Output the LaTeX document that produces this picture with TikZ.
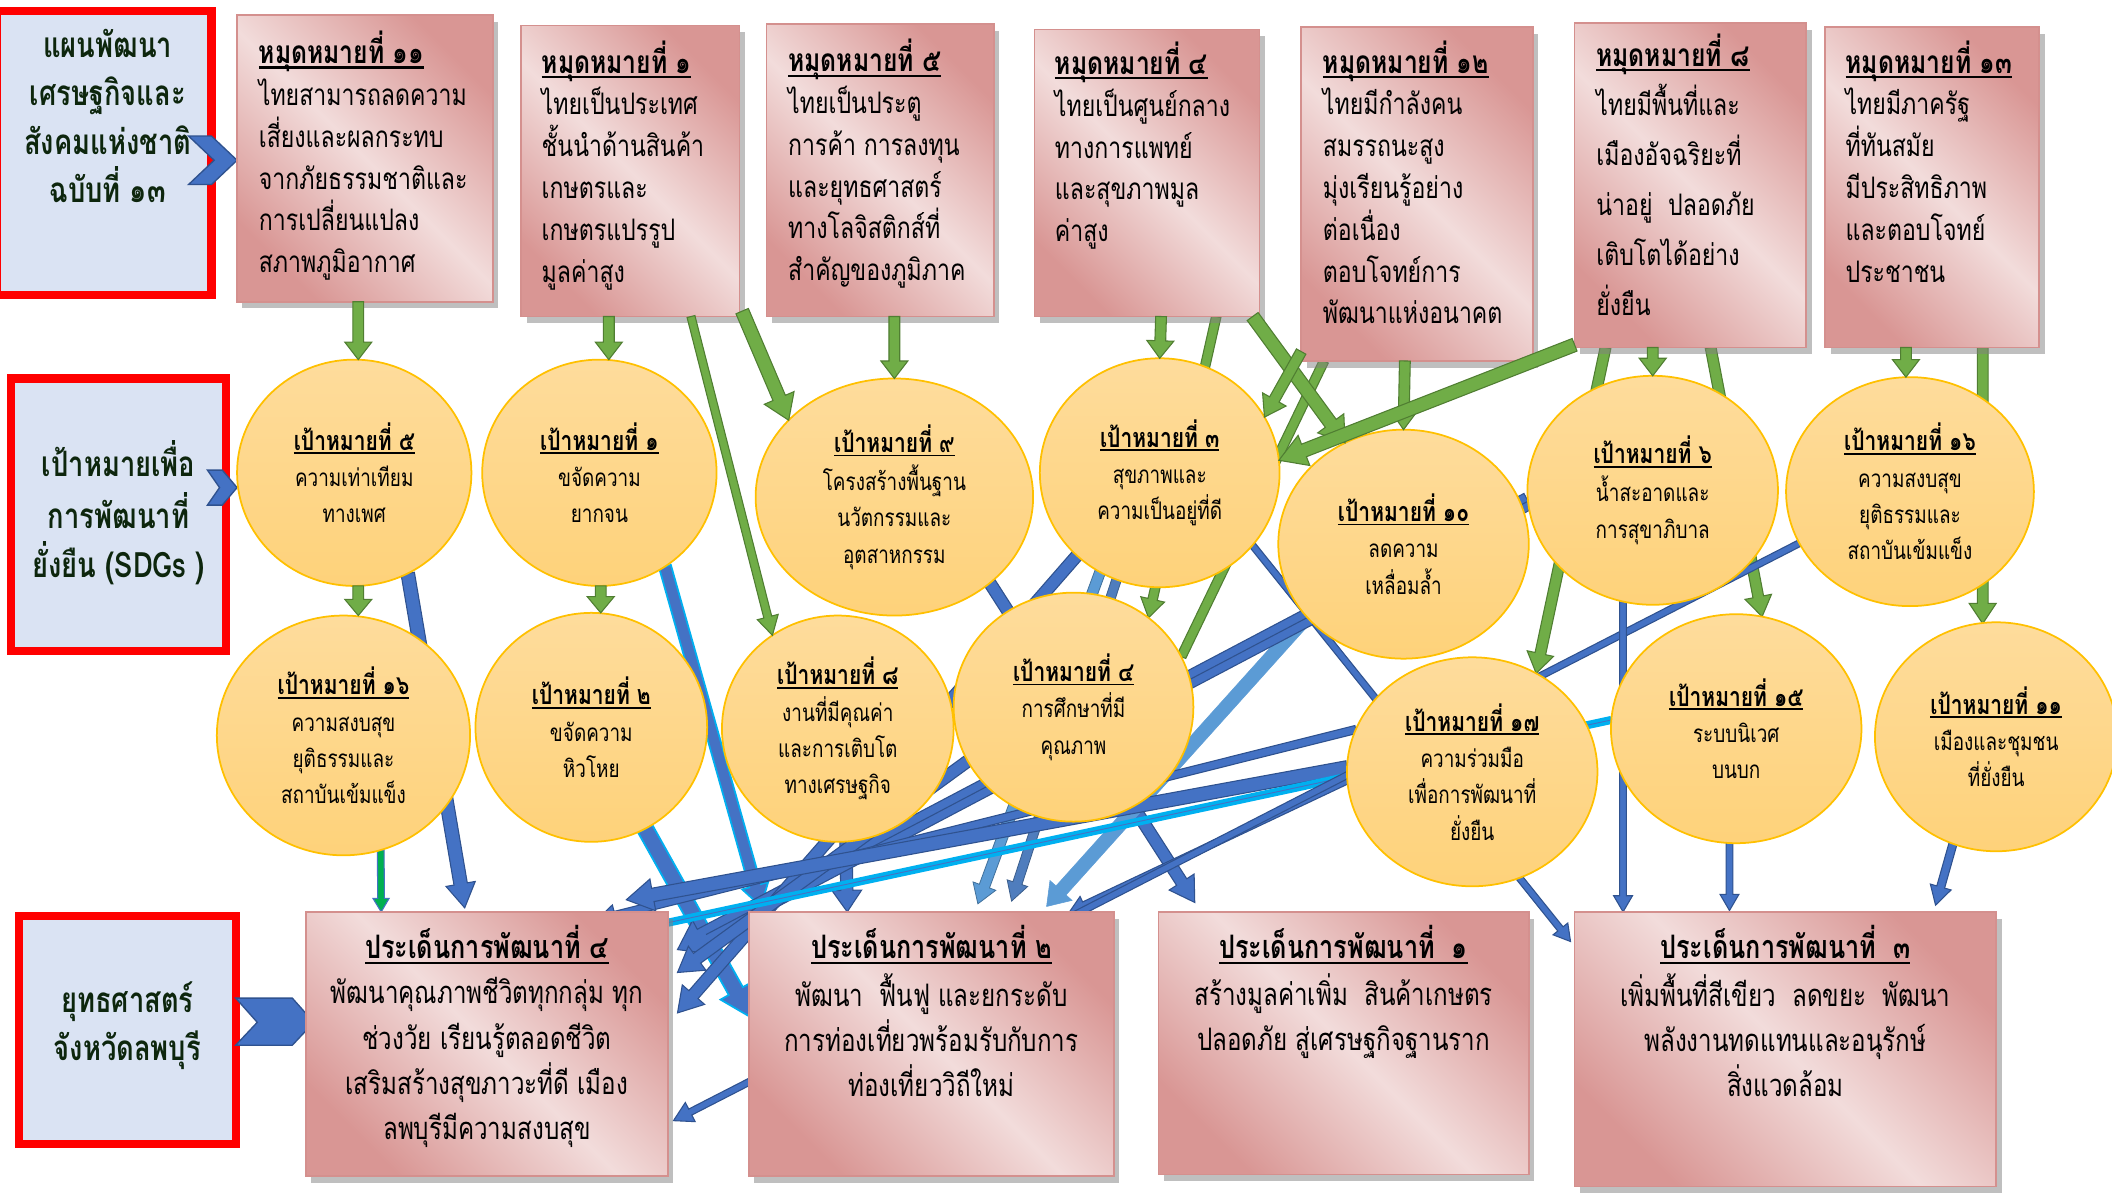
\documentclass[tikz,border=0pt]{standalone}
\usepackage{fontspec}
\newfontfamily\thai[Script=Thai,FakeStretch=0.78]{Loma}
\usetikzlibrary{calc,shapes.geometric,shadows}
\pgfdeclarelayer{bg}
\pgfdeclarelayer{fg}
\pgfsetlayers{bg,main,fg}
\definecolor{pkd}{HTML}{D99694}
\definecolor{pkl}{HTML}{F2DCDB}
\definecolor{pkb}{HTML}{D4908E}
\definecolor{orT}{HTML}{FEDC9C}
\definecolor{orB}{HTML}{FED27A}
\definecolor{orE}{HTML}{FFC000}
\definecolor{lbox}{HTML}{DAE3F3}
\definecolor{grnF}{HTML}{70AD47}
\definecolor{grnD}{HTML}{507E32}
\definecolor{bluF}{HTML}{4472C4}
\definecolor{bluD}{HTML}{2F528F}
\definecolor{lbF}{HTML}{5B9BD5}
\definecolor{lbD}{HTML}{41719C}
\definecolor{sbF}{HTML}{4F7DBD}
\definecolor{sbD}{HTML}{3B5E8C}
\definecolor{cyn}{HTML}{00B0F0}
\definecolor{gbF}{HTML}{00B050}
\definecolor{lblack}{HTML}{0D260D}
\pgfdeclarehorizontalshading{pinkband}{100bp}{color(0bp)=(pkd); color(25bp)=(pkd); color(50bp)=(pkl); color(75bp)=(pkd); color(100bp)=(pkd)}
\newcommand\tul[1]{\leavevmode\setbox0=\hbox{#1}\rlap{\rule[-0.16em]{\wd0}{0.07em}}\box0}
\newcommand\blk[6][]{%
  \coordinate (bkA) at #2;
  \coordinate (bkB) at #3;
  \coordinate (bkH) at ($(bkB)!#6!(bkA)$);
  \filldraw[#1] ($(bkA)!#4!90:(bkB)$) -- ($(bkH)!#4!90:(bkB)$) -- ($(bkH)!#5!90:(bkB)$) -- (bkB)
    -- ($(bkH)!#5!-90:(bkB)$) -- ($(bkH)!#4!-90:(bkB)$) -- ($(bkA)!#4!-90:(bkB)$) -- cycle;
}
\newcommand\mtitle[1]{\tul{\bfseries\fontsize{23.5}{31}\selectfont #1}}
\newcommand\gtitle[1]{\tul{\bfseries\fontsize{20}{27}\selectfont #1}}
\newcommand\stitle[1]{\tul{\bfseries\fontsize{24}{33.5}\selectfont #1}}
\begin{document}
\begin{tikzpicture}[x=1pt,y=-1pt,
  lbx/.style={rectangle, draw=red, line width=6pt, fill=lbox, inner sep=0pt, outer sep=0pt},
  lt/.style={anchor=north, align=center, inner sep=0pt, text=lblack, font=\thai\bfseries\fontsize{26}{36}\selectfont},
  mbox/.style={rectangle, anchor=north west, shading=pinkband, shading angle=45, draw=pkb, line width=1.2pt, inner sep=0pt, outer sep=0pt,
     drop shadow={shadow xshift=4pt, shadow yshift=-5pt, fill=black!50, opacity=0.5}},
  mt/.style={anchor=north west, align=left, inner sep=0pt, font=\thai\fontsize{22}{31}\selectfont},
  st/.style={anchor=north, align=center, inner sep=0pt, font=\thai\fontsize{23}{33.5}\selectfont},
  gc/.style={ellipse, draw=orE, line width=1.3pt, top color=orT, bottom color=orB, inner sep=0pt, outer sep=0pt, align=center,
     font=\thai\fontsize{18}{27}\selectfont},
  chev/.style={fill=bluF, draw=bluD, line width=1pt},
  garr/.style={fill=grnF, draw=grnD, line width=0.8pt},
  barr/.style={fill=bluF, draw=bluD, line width=0.8pt},
  carr/.style={fill=bluF, draw=cyn, line width=1.3pt},
  lbarr/.style={fill=lbF, draw=lbD, line width=0.6pt},
  lbarrb/.style={fill=lbF, draw=lbF, line width=0.4pt},
  sbarr/.style={fill=sbF, draw=sbD, line width=0.6pt},
  gbarr/.style={fill=gbF, draw=bluF, line width=0.8pt}
]
\useasboundingbox (0,0) rectangle (1568,885);

% ---- left label boxes
\node[lbx, minimum width=159, minimum height=211] (L1) at (77.5,113.5) {};
\node[lt] (L1t) at ($(L1.north)+(2.5,9)$) {\strut แผนพัฒนา\\เศรษฐกิจและ\\สังคมแห่งชาติ\\ฉบับที่ ๑๓};
\filldraw[chev] (140,101) -- (157,101) -- (176,119) -- (157,137) -- (140,137) -- (159,119) -- cycle;

\node[lbx, minimum width=160, minimum height=202] (L2) at (88,382) {};
\node[lt] (L2t) at ($(L2.north)+(0,46)$) {\strut เป้าหมายเพื่อ\\การพัฒนาที่\\ยั่งยืน (SDGs )};
\filldraw[chev] (154,349) -- (165,349) -- (176,362) -- (165,375) -- (154,375) -- (163,362) -- cycle;

\node[lbx, minimum width=161, minimum height=169] (L3) at (94.5,764.5) {};
\node[lt] (L3t) at ($(L3.north)+(0,46)$) {\strut ยุทธศาสตร์\\จังหวัดลพบุรี};
\filldraw[chev] (175,741) -- (217,741) -- (233,759) -- (217,776) -- (175,776) -- (191,759) -- cycle;

% ---- top milestone boxes
\node[mbox, minimum width=190, minimum height=213] (M11) at (176,11) {};
\node[mt] (M11t) at ($(M11.north west)+(16,12)$) {\strut\mtitle{หมุดหมายที่ ๑๑}\\ไทยสามารถลดความ\\เสี่ยงและผลกระทบ\\จากภัยธรรมชาติและ\\การเปลี่ยนแปลง\\สภาพภูมิอากาศ};
\node[mbox, minimum width=162, minimum height=216] (M1) at (387,19) {};
\node[mt] (M1t) at ($(M1.north west)+(15,11)$) {\strut\mtitle{หมุดหมายที่ ๑}\\ไทยเป็นประเทศ\\ชั้นนำด้านสินค้า\\เกษตรและ\\เกษตรแปรรูป\\มูลค่าสูง};
\node[mbox, minimum width=169, minimum height=217] (M5) at (569,18) {};
\node[mt] (M5t) at ($(M5.north west)+(16,11)$) {\strut\mtitle{หมุดหมายที่ ๕}\\ไทยเป็นประตู\\การค้า การลงทุน\\และยุทธศาสตร์\\ทางโลจิสติกส์ที่\\สำคัญของภูมิภาค};
\node[mbox, minimum width=167, minimum height=213] (M4) at (768,22) {};
\node[mt] (M4t) at ($(M4.north west)+(15,9)$) {\strut\mtitle{หมุดหมายที่ ๔}\\ไทยเป็นศูนย์กลาง\\ทางการแพทย์\\และสุขภาพมูล\\ค่าสูง};
\node[mbox, minimum width=172, minimum height=248] (M12) at (966,20) {};
\node[mt] (M12t) at ($(M12.north west)+(16,10)$) {\strut\mtitle{หมุดหมายที่ ๑๒}\\ไทยมีกำลังคน\\สมรรถนะสูง\\มุ่งเรียนรู้อย่าง\\ต่อเนื่อง\\ตอบโจทย์การ\\พัฒนาแห่งอนาคต};
\node[mbox, minimum width=172, minimum height=241] (M8) at (1169,17) {};
\node[mt, font=\thai\fontsize{22}{37}\selectfont] (M8t) at ($(M8.north west)+(16,6)$) {\strut\mtitle{หมุดหมายที่ ๘}\\ไทยมีพื้นที่และ\\เมืองอัจฉริยะที่\\น่าอยู่ ~ปลอดภัย\\เติบโตได้อย่าง\\ยั่งยืน};
\node[mbox, minimum width=159, minimum height=238] (M13) at (1355,20) {};
\node[mt] (M13t) at ($(M13.north west)+(15,10)$) {\strut\mtitle{หมุดหมายที่ ๑๓}\\ไทยมีภาครัฐ\\ที่ทันสมัย\\มีประสิทธิภาพ\\และตอบโจทย์\\ประชาชน};

% ---- SDG goal circles
\node[gc, minimum width=174, minimum height=168] (G5) at (263,351) {\strut\gtitle{เป้าหมายที่ ๕}\\ความเท่าเทียม\\ทางเพศ};
\node[gc, minimum width=174, minimum height=168] (G1) at (445,351) {\strut\gtitle{เป้าหมายที่ ๑}\\ขจัดความ\\ยากจน};
\node[gc, minimum width=206, minimum height=176] (G9) at (664,369) {\strut\gtitle{เป้าหมายที่ ๙}\\โครงสร้างพื้นฐาน\\นวัตกรรมและ\\อุตสาหกรรม};
\node[gc, minimum width=178, minimum height=170] (G3) at (861,351) {\strut\gtitle{เป้าหมายที่ ๓}\\สุขภาพและ\\ความเป็นอยู่ที่ดี};
\node[gc, minimum width=186, minimum height=170] (G10) at (1042,404) {\strut\gtitle{เป้าหมายที่ ๑๐}\\ลดความ\\เหลื่อมล้ำ};
\node[gc, minimum width=186, minimum height=170] (G6) at (1227,364) {\strut\gtitle{เป้าหมายที่ ๖}\\น้ำสะอาดและ\\การสุขาภิบาล};
\node[gc, minimum width=184, minimum height=170] (G16b) at (1418,365) {\strut\gtitle{เป้าหมายที่ ๑๖}\\ความสงบสุข\\ยุติธรรมและ\\สถาบันเข้มแข็ง};
\node[gc, minimum width=188, minimum height=178] (G16) at (255,546) {\strut\gtitle{เป้าหมายที่ ๑๖}\\ความสงบสุข\\ยุติธรรมและ\\สถาบันเข้มแข็ง};
\node[gc, minimum width=172, minimum height=170] (G2) at (439,540) {\strut\gtitle{เป้าหมายที่ ๒}\\ขจัดความ\\หิวโหย};
\node[gc, minimum width=172, minimum height=168] (G8) at (622,541) {\strut\gtitle{เป้าหมายที่ ๘}\\งานที่มีคุณค่า\\และการเติบโต\\ทางเศรษฐกิจ};
\node[gc, minimum width=178, minimum height=170] (G4) at (797,525) {\strut\gtitle{เป้าหมายที่ ๔}\\การศึกษาที่มี\\คุณภาพ};
\node[gc, minimum width=186, minimum height=170] (G17) at (1093,573) {\strut\gtitle{เป้าหมายที่ ๑๗}\\ความร่วมมือ\\เพื่อการพัฒนาที่\\ยั่งยืน};
\node[gc, minimum width=186, minimum height=170] (G15) at (1289,541) {\strut\gtitle{เป้าหมายที่ ๑๕}\\ระบบนิเวศ\\บนบก};
\node[gc, minimum width=180, minimum height=170] (G11) at (1482,547) {\strut\gtitle{เป้าหมายที่ ๑๑}\\เมืองและชุมชน\\ที่ยั่งยืน};

% ---- bottom strategy boxes
\node[mbox, minimum width=269, minimum height=196] (S4) at (227,677) {};
\node[st] (S4t) at ($(S4.north)+(0,10)$) {\strut\stitle{ประเด็นการพัฒนาที่ ๔}\\พัฒนาคุณภาพชีวิตทุกกลุ่ม ทุก\\ช่วงวัย เรียนรู้ตลอดชีวิต\\เสริมสร้างสุขภาวะที่ดี เมือง\\ลพบุรีมีความสงบสุข};
\node[mbox, minimum width=271, minimum height=196] (S2) at (556,677) {};
\node[st] (S2t) at ($(S2.north)+(0,10)$) {\strut\stitle{ประเด็นการพัฒนาที่ ๒}\\พัฒนา ~ฟื้นฟู และยกระดับ\\การท่องเที่ยวพร้อมรับกับการ\\ท่องเที่ยววิถีใหม่};
\node[mbox, minimum width=275, minimum height=195] (S1) at (860,677) {};
\node[st] (S1t) at ($(S1.north)+(0,10)$) {\strut\stitle{ประเด็นการพัฒนาที่ ~๑}\\สร้างมูลค่าเพิ่ม ~สินค้าเกษตร\\ปลอดภัย สู่เศรษฐกิจฐานราก};
\node[mbox, minimum width=313, minimum height=204] (S3) at (1169,677) {};
\node[st] (S3t) at ($(S3.north)+(0,10)$) {\strut\stitle{ประเด็นการพัฒนาที่ ~๓}\\เพิ่มพื้นที่สีเขียว ~ลดขยะ ~พัฒนา\\พลังงานทดแทนและอนุรักษ์\\สิ่งแวดล้อม};

% ---- connectors behind the nodes
\begin{pgfonlayer}{bg}
\fill[white] (0,0) rectangle (1568,885);
\blk[garr]{($(M4.south west)+(135,0)$)}{(G4.50)}{3.5pt}{9pt}{14pt}
\blk[garr]{($(M12.south west)+(17,0)$)}{(G4.25)}{3.5pt}{3.5pt}{0.5pt}
\blk[garr]{($(M8.south west)+(23,0)$)}{(G17.57)}{4pt}{10pt}{15pt}
\blk[garr]{($(M8.south west)+(101,0)$)}{(G15.77)}{4pt}{10pt}{15pt}
\blk[garr]{($(M13.south west)+(117,0)$)}{($(G11.north)+(-10,1)$)}{4pt}{10pt}{15pt}

\blk[barr]{(G5.-62)}{($(S4.north west)+(118,-3)$)}{5pt}{11pt}{18pt}
\blk[carr]{(G1.-55)}{($(S2.north west)+(9,-4)$)}{4.5pt}{10pt}{16pt}
\blk[carr]{(G2.-62)}{($(S2.north west)+(1,78)$)}{6pt}{13pt}{22pt}
\blk[barr]{($(G8.south)+(6,0)$)}{($(S2.north west)+(73,0)$)}{4.5pt}{11pt}{16pt}
\blk[barr]{(G9.-42)}{($(S1.north west)+(27,-7)$)}{4.5pt}{11pt}{18pt}
\blk[lbarr]{(G3.-121)}{($(S2.north west)+(170,-6)$)}{4pt}{9pt}{14pt}
\blk[sbarr]{(G3.-112)}{($(S2.north west)+(195,-8)$)}{3.5pt}{8pt}{14pt}
\blk[barr]{(G3.-38)}{($(S3.north west)+(-3,22)$)}{2.5pt}{7pt}{12pt}
\blk[lbarrb]{(G10.-143)}{($(S2.north west)+(221,-4)$)}{5pt}{11pt}{16pt}
\blk[barr]{(G6.185)}{($(S4.north east)+(7,28)$)}{6.5pt}{14pt}{20pt}
\draw[bluD, line width=0.8pt, shorten >=24pt] (G6.185) -- ($(S4.north east)+(7,28)$);
\blk[barr]{(G3.-135)}{($(S4.north east)+(7,75)$)}{4.5pt}{11pt}{18pt}
\blk[barr]{(G4.-153)}{($(S4.north east)+(7,45)$)}{4.5pt}{11pt}{18pt}
\blk[barr]{(G17.160)}{($(S4.north west)+(216,6)$)}{3pt}{8pt}{14pt}
\blk[barr]{(G17.178)}{($(S4.north west)+(238,-9)$)}{5pt}{12pt}{20pt}
\draw[cyn, line width=6pt] (G15.176) -- ($(S4.north east)+(0,8)$);
\draw[bluF, line width=0.7pt] (G15.176) -- ($(S4.north east)+(0,8)$);
\blk[barr]{(G17.184)}{($(S2.north west)+(238,0)$)}{2.5pt}{7pt}{12pt}
\blk[barr]{(G16b.-155)}{($(S4.north east)+(4,155)$)}{2.5pt}{8pt}{14pt}
\blk[barr]{(G6.-105)}{($(S3.north west)+(36,0)$)}{2.5pt}{7pt}{12pt}
\blk[barr]{($(G15.south)+(-5,0)$)}{($(S3.north west)+(115,-1)$)}{2.5pt}{7pt}{12pt}
\blk[barr]{(G11.-112)}{($(S3.north east)+(-45,-5)$)}{3pt}{8pt}{14pt}
\blk[gbarr]{(G16.-72)}{($(S4.north west)+(56,0)$)}{2.5pt}{6pt}{10pt}
\end{pgfonlayer}

% ---- connectors in front
\begin{pgfonlayer}{fg}
\blk[garr]{($(M11.south west)+(90,0)$)}{($(G5.north)+(3,0)$)}{4pt}{10pt}{13pt}
\blk[garr]{($(M1.south west)+(65,0)$)}{($(G1.north)+(7,0)$)}{4pt}{10pt}{13pt}
\blk[garr]{($(M1.south west)+(126,0)$)}{(G8.125)}{3pt}{8pt}{14pt}
\blk[garr]{($(M1.south east)+(2,-4)$)}{(G9.144)}{5pt}{12pt}{18pt}
\blk[garr]{($(M5.south west)+(95,0)$)}{(G9.north)}{4pt}{10pt}{13pt}
\blk[garr]{($(M4.south west)+(94,0)$)}{(G3.north)}{4pt}{10pt}{13pt}
\blk[garr]{($(M4.south east)+(-5,0)$)}{(G10.120)}{5pt}{12pt}{18pt}
\blk[garr]{($(M12.south west)+(0,-7)$)}{(G3.28)}{4pt}{10pt}{15pt}
\blk[garr]{($(M12.south west)+(77,0)$)}{(G10.north)}{4pt}{10pt}{14pt}
\blk[garr]{($(M8.south west)+(0,-2)$)}{(G3.6)}{5pt}{12pt}{20pt}
\blk[garr]{($(M8.south west)+(58,0)$)}{(G6.north)}{4pt}{10pt}{13pt}
\blk[garr]{($(M13.south west)+(60,0)$)}{($(G16b.north)+(-3,0)$)}{4pt}{10pt}{13pt}
\blk[garr]{($(G5.south)+(3,0)$)}{($(G16.north)+(11,0)$)}{4pt}{10pt}{12pt}
\blk[garr]{($(G1.south)+(1,0)$)}{($(G2.north)+(7,0)$)}{4pt}{10pt}{12pt}
\end{pgfonlayer}
\end{tikzpicture}
\end{document}
